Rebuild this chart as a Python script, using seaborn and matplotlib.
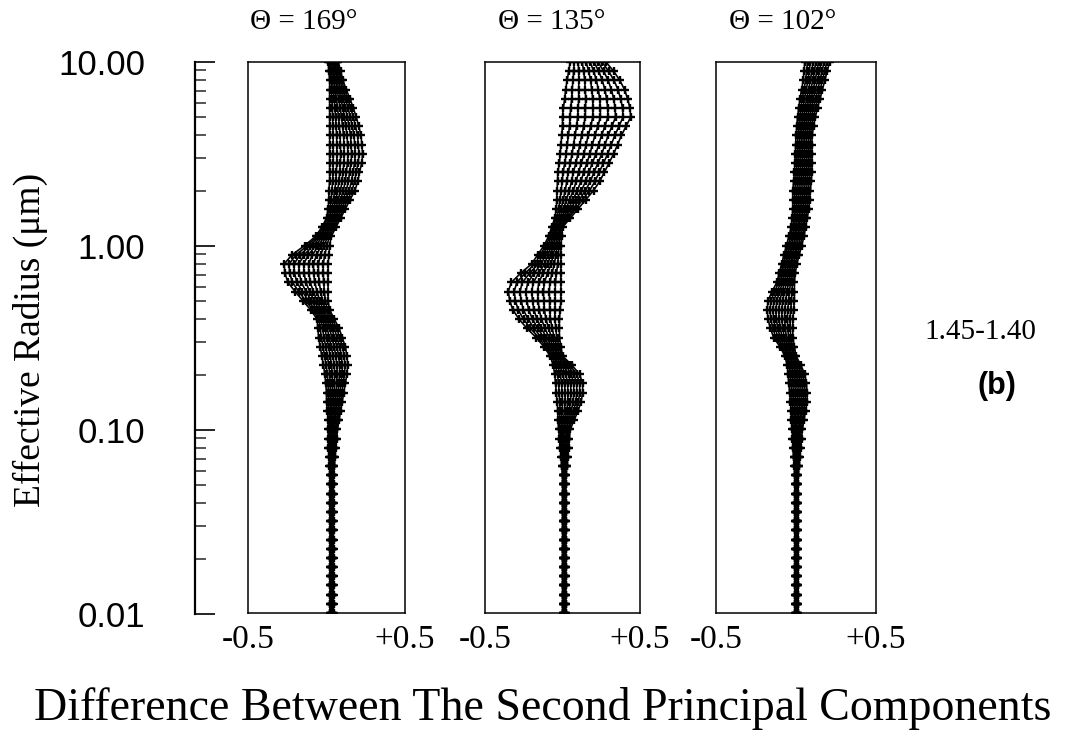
import numpy as np
import pandas as pd
import matplotlib
matplotlib.use("Agg")
import matplotlib.pyplot as plt
import seaborn as sns
from matplotlib.ticker import FixedLocator, LogLocator, NullFormatter

# Effective radius grid (log10 of radius in micrometres)
log_radius = np.linspace(-2.0, 1.0, 61)
radius_um = 10.0 ** log_radius

panel_titles = ["\u0398 = 169\u00b0", "\u0398 = 135\u00b0", "\u0398 = 102\u00b0"]
x_tick_values = [-0.5, 0.5]
x_tick_labels = ["-0.5", "+0.5"]
y_tick_values = [0.01, 0.1, 1.0, 10.0]
y_tick_labels = ["0.01", "0.10", "1.00", "10.00"]
n_members = 10

# Bounding curves of each family (difference values, bottom to top of radius grid)
left_169 = [0.022] * 16 + [
    0.018, 0.015, 0.012, 0.01, 0.01, 0.01, 0.005, 0.0, 0.0, -0.005,
    -0.01, -0.02, -0.03, -0.04, -0.05, -0.055, -0.06, -0.10, -0.15, -0.20,
    -0.245, -0.265, -0.27, -0.22, -0.14, -0.07, -0.03, 0.0, 0.01, 0.015,
    0.015, 0.02, 0.02, 0.02, 0.02, 0.02, 0.02, 0.02, 0.02, 0.02,
    0.02, 0.02, 0.02, 0.015, 0.01]
right_169 = [0.045] * 16 + [
    0.05, 0.055, 0.06, 0.065, 0.07, 0.08, 0.09, 0.10, 0.11, 0.12,
    0.13, 0.135, 0.13, 0.12, 0.10, 0.08, 0.05, 0.02, 0.01, 0.01,
    0.01, 0.01, 0.01, 0.015, 0.02, 0.03, 0.06, 0.09, 0.12, 0.15,
    0.18, 0.20, 0.21, 0.225, 0.23, 0.225, 0.22, 0.205, 0.19, 0.17,
    0.15, 0.125, 0.105, 0.09, 0.075]

left_135 = [0.0] * 16 + [
    -0.005, -0.01, -0.015, -0.02, -0.025, -0.03, -0.03, -0.035, -0.04, -0.045,
    -0.05, -0.06, -0.08, -0.12, -0.17, -0.23, -0.28, -0.32, -0.34, -0.35,
    -0.33, -0.27, -0.20, -0.16, -0.12, -0.09, -0.07, -0.05, -0.04, -0.037,
    -0.035, -0.032, -0.03, -0.02, -0.015, -0.01, -0.005, 0.0, 0.0, 0.005,
    0.015, 0.02, 0.03, 0.04, 0.05]
right_135 = [0.022] * 16 + [
    0.03, 0.035, 0.04, 0.045, 0.05, 0.075, 0.10, 0.12, 0.13, 0.13,
    0.11, 0.06, 0.0, -0.01, -0.02, -0.02, -0.02, -0.015, -0.01, -0.01,
    -0.01, -0.01, -0.01, -0.01, -0.01, -0.005, 0.0, 0.05, 0.10, 0.15,
    0.20, 0.24, 0.27, 0.30, 0.33, 0.355, 0.38, 0.41, 0.44, 0.435,
    0.42, 0.40, 0.37, 0.33, 0.28]

left_102 = [-0.008] * 16 + [
    -0.012, -0.015, -0.02, -0.022, -0.025, -0.03, -0.03, -0.035, -0.04, -0.045,
    -0.05, -0.055, -0.07, -0.10, -0.14, -0.16, -0.175, -0.18, -0.175, -0.15,
    -0.12, -0.105, -0.09, -0.075, -0.06, -0.045, -0.03, -0.025, -0.02, -0.02,
    -0.02, -0.015, -0.01, -0.007, -0.005, -0.002, 0.0, 0.005, 0.01, 0.017,
    0.025, 0.035, 0.045, 0.05, 0.055]
right_102 = [0.014] * 16 + [
    0.02, 0.025, 0.03, 0.035, 0.04, 0.05, 0.06, 0.07, 0.07, 0.065,
    0.055, 0.03, 0.0, -0.01, -0.02, -0.02, -0.02, -0.015, -0.01, -0.01,
    -0.01, -0.005, 0.005, 0.02, 0.035, 0.05, 0.06, 0.07, 0.08, 0.085,
    0.09, 0.095, 0.10, 0.10, 0.10, 0.10, 0.10, 0.11, 0.12, 0.135,
    0.15, 0.165, 0.18, 0.195, 0.21]

families = [(left_169, right_169), (left_135, right_135), (left_102, right_102)]

SERIF = ["Liberation Serif", "DejaVu Serif"]
SANS = ["Liberation Sans", "DejaVu Sans"]

sns.set_theme(style="white")
plt.rcParams["font.family"] = SERIF
plt.rcParams["axes.edgecolor"] = "black"

W, H = 1078, 740
fig = plt.figure(figsize=(W / 100, H / 100), dpi=100)
fig.patch.set_facecolor("white")


def px_box(x0, x1, y0, y1):
    return [x0 / W, 1 - y1 / H, (x1 - x0) / W, (y1 - y0) / H]


def family_frame(left, right):
    left = np.asarray(left)
    right = np.asarray(right)
    frames = []
    for k in range(n_members):
        frac = k / (n_members - 1)
        frames.append(pd.DataFrame({
            "radius": radius_um,
            "diff": left + frac * (right - left),
            "member": k,
        }))
    return pd.concat(frames, ignore_index=True)


# Shared radius axis drawn as a free-standing spine
TOP, BOTTOM = 62, 614
ax_y = fig.add_axes(px_box(195, 196, TOP, BOTTOM))
ax_y.set_yscale("log")
ax_y.set_ylim(0.01, 10)
ax_y.set_xlim(0, 1)
for side in ("top", "right", "bottom"):
    ax_y.spines[side].set_visible(False)
ax_y.spines["left"].set_linewidth(1.6)
ax_y.set_xticks([])
ax_y.patch.set_alpha(0)
ax_y.yaxis.set_major_locator(FixedLocator(y_tick_values))
ax_y.set_yticklabels(y_tick_labels, family=SANS, fontsize=25)
ax_y.yaxis.set_minor_locator(LogLocator(base=10, subs=np.arange(2, 10)))
ax_y.yaxis.set_minor_formatter(NullFormatter())
ax_y.tick_params(axis="y", which="major", direction="in", length=14.5,
                 width=1.2, pad=36, left=True, colors="black")
ax_y.tick_params(axis="y", which="minor", direction="in", length=8,
                 width=1.1, left=True)

fig.text(30 / W, 1 - 340 / H, "Effective Radius (\u03bcm)", rotation=90,
         ha="center", va="center", fontsize=27, color="black")

panel_edges = [(248, 405), (485, 640), (716, 876)]
title_centers = [304, 552, 783]

for (x0, x1), (left, right), title, tx in zip(panel_edges, families,
                                              panel_titles, title_centers):
    ax = fig.add_axes(px_box(x0, x1, TOP, 613))
    ax.set_yscale("log")
    df = family_frame(left, right)
    sns.lineplot(data=df, x="diff", y="radius", units="member",
                 estimator=None, sort=False, color="black", lw=1.2,
                 marker="+", markersize=5.5, markeredgewidth=1.7,
                 markeredgecolor="black", legend=False, ax=ax)
    ax.set_xlim(-0.5, 0.5)
    ax.set_ylim(0.01, 10)
    ax.set_yticks([])
    ax.yaxis.set_minor_locator(FixedLocator([]))
    ax.set_xticks(x_tick_values)
    ax.set_xticklabels(x_tick_labels, fontsize=24)
    ax.tick_params(axis="x", length=0, pad=8, colors="black")
    ax.set_xlabel("")
    ax.set_ylabel("")
    for sp in ax.spines.values():
        sp.set_visible(True)
        sp.set_linewidth(1.1)
        sp.set_color("black")
    fig.text(tx / W, 1 - 22 / H, title, ha="center", va="center",
             fontsize=21, color="black")

fig.text(543 / W, 1 - 708 / H,
         "Difference Between The Second Principal Components",
         ha="center", va="center", fontsize=33, color="black")
fig.text(980 / W, 1 - 332 / H, "1.45-1.40", ha="center", va="center",
         fontsize=21, color="black")
fig.text(997 / W, 1 - 386 / H, "(b)", ha="center", va="center",
         fontsize=22, fontweight="bold", family=SANS, color="black")

fig.savefig("out.png", dpi=100, facecolor="white")
